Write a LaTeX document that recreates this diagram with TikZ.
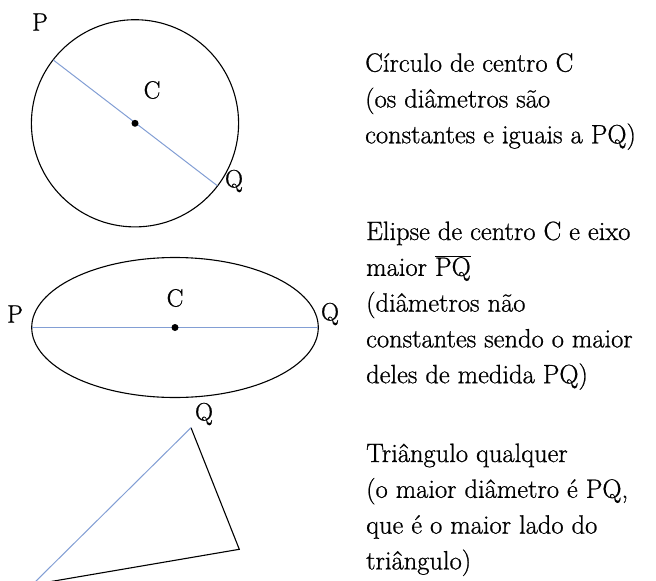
\documentclass[tikz,border=0pt]{standalone}
\usepackage{fontspec}
\setmainfont{Latin Modern Roman}[FakeBold=0.8]
\begin{document}
\begin{tikzpicture}[x=1pt,y=-1pt,
  shape line/.style={draw=black,line width=1.1pt},
  diam/.style={draw=diamblue,line width=1pt},
  lbl/.style={inner sep=0pt,font=\fontsize{25}{28}\selectfont},
  desc/.style={inner sep=0pt,anchor=base west,font=\fontsize{26.5}{35.8}\selectfont},
  dot/.style={circle,fill=black,inner sep=0pt,minimum size=7pt}]
\definecolor{diamblue}{RGB}{130,158,212}
\useasboundingbox (0,0) rectangle (656,581);
% circle
\coordinate (c1) at (135,123.3);
\coordinate (p1) at (53.3,60);
\coordinate (q1) at (217.3,185.7);
\draw[shape line] (c1) circle[radius=103.6pt];
\draw[diam] (p1) -- (q1);
\node[dot] (d1) at (c1) {};
\node[lbl] (lp1) at (40,22) {P};
\node[lbl] (lc1) at (152,90) {C};
\node[lbl] (lq1) at (234,181) {Q};
% ellipse
\coordinate (c2) at (175,327.5);
\coordinate (p2) at (31.7,327.5);
\coordinate (q2) at (318.3,327.5);
\draw[shape line] (c2) ellipse[x radius=143.3pt,y radius=70pt];
\draw[diam] (p2) -- (q2);
\node[dot] (d2) at (c2) {};
\node[lbl] (lp2) at (15,314) {P};
\node[lbl] (lc2) at (175,298) {C};
\node[lbl] (lq2) at (330,314) {Q};
% triangle
\coordinate (q3) at (191,427.7);
\coordinate (r3) at (239.3,549.3);
\coordinate (p3) at (32.3,584.7);
\draw[shape line,line join=miter] (q3) -- (r3) -- (p3);
\draw[diam] (p3) -- (q3);
\node[lbl] (lq3) at (204,414) {Q};
\node[lbl] (lp3) at (16,590) {P};
% descriptions
\node[desc] (t1) at (365,71.7) {\vtop{\hbox{Círculo de centro C}\hbox{(os diâmetros são}\hbox{constantes e iguais a PQ)}}};
\node[desc] (t2) at (366,240) {\vtop{\hbox{Elipse de centro C e eixo}\hbox{maior $\overline{\mbox{PQ}}$}\hbox{(diâmetros não}\hbox{constantes sendo o maior}\hbox{deles de medida PQ)}}};
\node[desc] (t3) at (366,462) {\vtop{\hbox{Triângulo qualquer}\hbox{(o maior diâmetro é PQ,}\hbox{que é o maior lado do}\hbox{triângulo)}}};
\end{tikzpicture}
\end{document}
